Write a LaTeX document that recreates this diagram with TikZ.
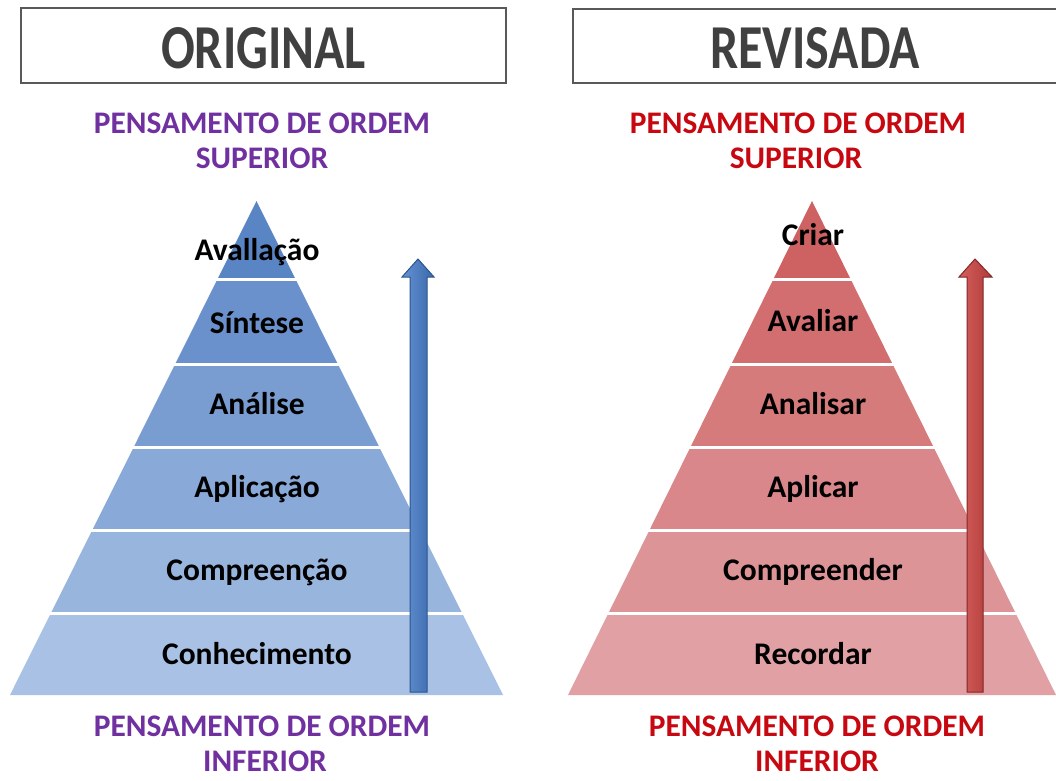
\documentclass[tikz,border=0pt]{standalone}
\usepackage{fontspec}
\setmainfont{Carlito}
\usetikzlibrary{calc}
\definecolor{titlegray}{RGB}{64,64,64}
\definecolor{boxgray}{RGB}{89,89,89}
\definecolor{purp}{RGB}{112,48,160}
\definecolor{redt}{RGB}{200,8,16}
\definecolor{L1}{RGB}{90,133,197}
\definecolor{L2}{RGB}{106,145,203}
\definecolor{L3}{RGB}{121,157,209}
\definecolor{L4}{RGB}{137,169,216}
\definecolor{L5}{RGB}{152,181,222}
\definecolor{L6}{RGB}{168,193,228}
\definecolor{R1}{RGB}{206,98,98}
\definecolor{R2}{RGB}{210,110,111}
\definecolor{R3}{RGB}{213,123,124}
\definecolor{R4}{RGB}{217,135,138}
\definecolor{R5}{RGB}{220,148,151}
\definecolor{R6}{RGB}{224,160,164}
\definecolor{arrBlueL}{RGB}{100,145,210}
\definecolor{arrBlueR}{RGB}{58,105,172}
\definecolor{arrBlueD}{RGB}{45,85,140}
\definecolor{arrRedL}{RGB}{214,95,92}
\definecolor{arrRedR}{RGB}{175,58,56}
\definecolor{arrRedD}{RGB}{130,40,40}
\begin{document}
\begin{tikzpicture}[x=1pt,y=-1pt,
  titlebox/.style={draw=boxgray, line width=2.5pt, fill=white},
  titletext/.style={text=titlegray, font=\fontsize{50}{60}\selectfont\bfseries, inner sep=0pt},
  leveltext/.style={font=\fontsize{31.4}{36}\selectfont\bfseries, align=center, inner sep=0pt, anchor=base},
  layertext/.style={font=\fontsize{31.5}{36}\selectfont\bfseries, text=black, inner sep=0pt, anchor=base},
  sep/.style={draw=white, line width=3pt}
]
\useasboundingbox (0,0) rectangle (1056,780);
\fill[white] (0,0) rectangle (1056,780);

% title boxes
\draw[titlebox] (21,8) rectangle (506,83);
\node[titletext] (tl) at (263.5,48) {\scalebox{1}[1.25]{ORIGINAL}};
\draw[titlebox] (573,9) rectangle (1070,83);
\node[titletext] (tr) at (815,48) {\scalebox{1}[1.25]{REVISADA}};

% level labels
\node[leveltext, text=purp] (lsup) at (262,133) {PENSAMENTO DE ORDEM};
\node[leveltext, text=purp] (lsup2) at (262,168) {SUPERIOR};
\node[leveltext, text=purp] (linf) at (262,736) {PENSAMENTO DE ORDEM};
\node[leveltext, text=purp] (linf2) at (265,771) {INFERIOR};
\node[leveltext, text=redt] (rsup) at (798,133) {PENSAMENTO DE ORDEM};
\node[leveltext, text=redt] (rsup2) at (796,168) {SUPERIOR};
\node[leveltext, text=redt] (rinf) at (817,736) {PENSAMENTO DE ORDEM};
\node[leveltext, text=redt] (rinf2) at (817,771) {INFERIOR};

% left pyramid
\coordinate (LA) at (256.5,201);
\coordinate (LBL) at (10,695);
\coordinate (LBR) at (503,695);
\foreach \ta/\tb/\col in {0/0.1599/L1,0.1599/0.3300/L2,0.3300/0.4980/L3,0.4980/0.6660/L4,0.6660/0.8340/L5,0.8340/1/L6}{
  \fill[\col] ($(LA)!\ta!(LBL)$) -- ($(LA)!\ta!(LBR)$) -- ($(LA)!\tb!(LBR)$) -- ($(LA)!\tb!(LBL)$) -- cycle;
}
\foreach \t in {0.1599,0.3300,0.4980,0.6660,0.8340}{
  \draw[sep] ($(LA)!\t!(LBL)+(-4,0)$) -- ($(LA)!\t!(LBR)+(4,0)$);
}

% right pyramid
\coordinate (RA) at (812,201);
\coordinate (RBL) at (568,695);
\coordinate (RBR) at (1056,695);
\foreach \ta/\tb/\col in {0/0.1599/R1,0.1599/0.3300/R2,0.3300/0.4980/R3,0.4980/0.6660/R4,0.6660/0.8340/R5,0.8340/1/R6}{
  \fill[\col] ($(RA)!\ta!(RBL)$) -- ($(RA)!\ta!(RBR)$) -- ($(RA)!\tb!(RBR)$) -- ($(RA)!\tb!(RBL)$) -- cycle;
}
\foreach \t in {0.1599,0.3300,0.4980,0.6660,0.8340}{
  \draw[sep] ($(RA)!\t!(RBL)+(-4,0)$) -- ($(RA)!\t!(RBR)+(4,0)$);
}

% arrows
\draw[arrBlueD, line width=1pt, left color=arrBlueL, right color=arrBlueR]
  (418,259) -- (434,277) -- (427,277) -- (427,692) -- (410,692) -- (410,277) -- (402,277) -- cycle;
\draw[arrRedD, line width=1pt, left color=arrRedL, right color=arrRedR]
  (975,259) -- (992,277) -- (983,277) -- (983,692) -- (967,692) -- (967,277) -- (959,277) -- cycle;

% layer labels left
\node[layertext] (l1) at (257,260) {Avallação};
\node[layertext] (l2) at (257,333) {Síntese};
\node[layertext] (l3) at (257,414) {Análise};
\node[layertext] (l4) at (257,497) {Aplicação};
\node[layertext] (l5) at (257,580) {Compreenção};
\node[layertext] (l6) at (257,664) {Conhecimento};

% layer labels right
\node[layertext] (r1) at (813,245) {Criar};
\node[layertext] (r2) at (813,331) {Avaliar};
\node[layertext] (r3) at (813,414) {Analisar};
\node[layertext] (r4) at (813,497) {Aplicar};
\node[layertext] (r5) at (813,580) {Compreender};
\node[layertext] (r6) at (813,664) {Recordar};
\end{tikzpicture}
\end{document}
